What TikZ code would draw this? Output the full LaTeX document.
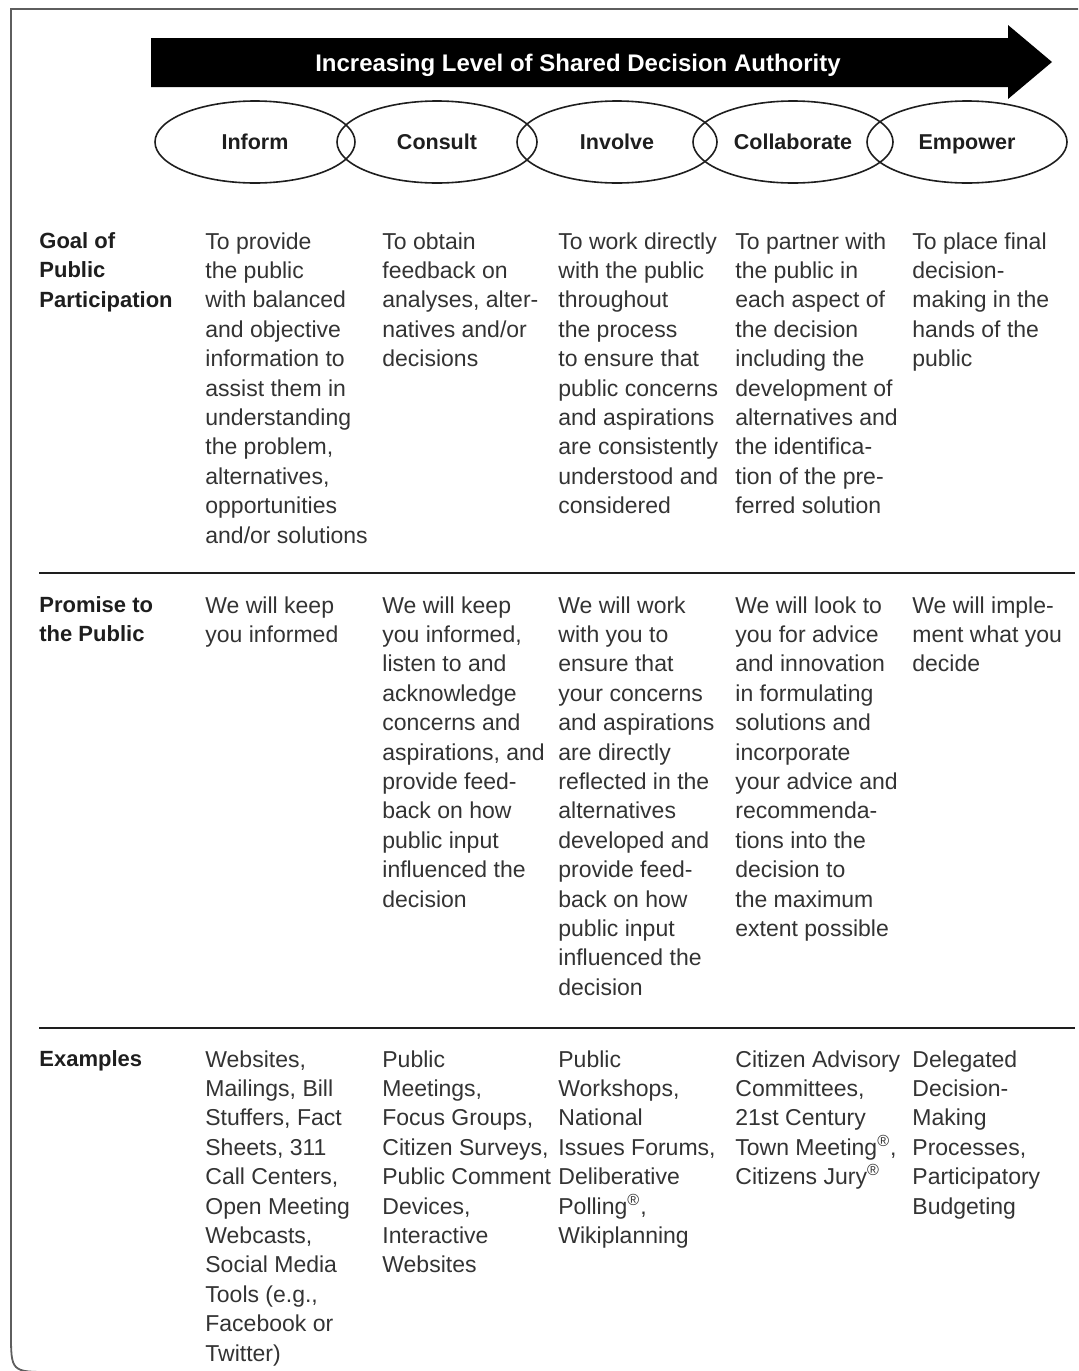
\documentclass[tikz,border=0pt]{standalone}
\usepackage{fontspec}
\setmainfont{Liberation Sans}
\usetikzlibrary{shapes.geometric}

\definecolor{bodytext}{HTML}{333333}
\definecolor{labeltext}{HTML}{1E1E1E}
\definecolor{framegray}{HTML}{5E5E5E}

\newcommand\bodysize{\fontsize{11.5}{14.7}\selectfont}
\newcommand\rowsize{\fontsize{11}{14.7}\selectfont\bfseries}

\tikzset{
    cell/.style={anchor=north west, align=left, inner sep=0pt, font=\bodysize, text=bodytext},
    rowlabel/.style={cell, font=\rowsize, text=labeltext},
    stage/.style={ellipse, draw=labeltext, line width=0.8pt, minimum width=100pt, minimum height=41pt, inner sep=0pt, text height=7.8pt, text depth=0pt, font=\fontsize{10.75}{13}\selectfont\bfseries, text=labeltext},
    rule/.style={draw=labeltext, line width=0.7pt},
}

\begin{document}
\begin{tikzpicture}[x=0.5pt, y=-0.5pt]
                \useasboundingbox (0,0) rectangle (1078,1371);

                \draw[framegray, line width=0.9pt] (1078,9) -- (11,9) -- (11,1332) .. controls (11,1372) .. (51,1372) -- (1078,1372);

                \fill[black] (151,38) -- (1008,38) -- (1008,25) -- (1052,62) -- (1008,99) -- (1008,87) -- (151,87) -- cycle;
                \node[anchor=base, inner sep=0pt, text=white, font=\fontsize{12}{14}\selectfont\bfseries] (Title) at (578,71) {Increasing Level of Shared Decision Authority};

                \node[stage] (Inf) at (255,142) {Inform};
                \node[stage] (Con) at (437,142) {Consult};
                \node[stage] (Inv) at (617,142) {Involve};
                \node[stage] (Col) at (793,142) {Collaborate};
                \node[stage] (Emp) at (967,142) {Empower};

                \node[rowlabel] (G) at (39,232) {Goal of\\Public\\Participation};
                \node[cell] (G-Inf) at (205,232) {To provide\\the public\\with balanced\\and objective\\information to\\assist them in\\understanding\\the problem,\\alternatives,\\opportunities\\and/or solutions};
                \node[cell] (G-Con) at (382,232) {To obtain\\feedback on\\analyses, alter-\\natives and/or\\decisions};
                \node[cell] (G-Inv) at (558,232) {To work directly\\with the public\\throughout\\the process\\to ensure that\\public concerns\\and aspirations\\are consistently\\understood and\\considered};
                \node[cell] (G-Col) at (735,232) {To partner with\\the public in\\each aspect of\\the decision\\including the\\development of\\alternatives and\\the identifica-\\tion of the pre-\\ferred solution};
                \node[cell] (G-Emp) at (912,232) {To place final\\decision-\\making in the\\hands of the\\public};

                \draw[rule] (39,573) -- (1075,573);

                \node[rowlabel] (P) at (39,596) {Promise to\\the Public};
                \node[cell] (P-Inf) at (205,596) {We will keep\\you informed};
                \node[cell] (P-Con) at (382,596) {We will keep\\you informed,\\listen to and\\acknowledge\\concerns and\\aspirations, and\\provide feed-\\back on how\\public input\\influenced the\\decision};
                \node[cell] (P-Inv) at (558,596) {We will work\\with you to\\ensure that\\your concerns\\and aspirations\\are directly\\reflected in the\\alternatives\\developed and\\provide feed-\\back on how\\public input\\influenced the\\decision};
                \node[cell] (P-Col) at (735,596) {We will look to\\you for advice\\and innovation\\in formulating\\solutions and\\incorporate\\your advice and\\recommenda-\\tions into the\\decision to\\the maximum\\extent possible};
                \node[cell] (P-Emp) at (912,596) {We will imple-\\ment what you\\decide};

                \draw[rule] (39,1028) -- (1075,1028);

                \node[rowlabel] (E) at (39,1050) {Examples};
                \node[cell] (E-Inf) at (205,1050) {Websites,\\Mailings, Bill\\Stuffers, Fact\\Sheets, 311\\Call Centers,\\Open Meeting\\Webcasts,\\Social Media\\Tools (e.g.,\\Facebook or\\Twitter)};
                \node[cell] (E-Con) at (382,1050) {Public\\Meetings,\\Focus Groups,\\Citizen Surveys,\\Public Comment\\Devices,\\Interactive\\Websites};
                \node[cell] (E-Inv) at (558,1050) {Public\\Workshops,\\National\\Issues Forums,\\Deliberative\\Polling\textsuperscript{®},\\Wikiplanning};
                \node[cell] (E-Col) at (735,1050) {Citizen Advisory\\Committees,\\21st Century\\Town Meeting\textsuperscript{®},\\Citizens Jury\textsuperscript{®}};
                \node[cell] (E-Emp) at (912,1050) {Delegated\\Decision-\\Making\\Processes,\\Participatory\\Budgeting};
            \end{tikzpicture}
\end{document}
